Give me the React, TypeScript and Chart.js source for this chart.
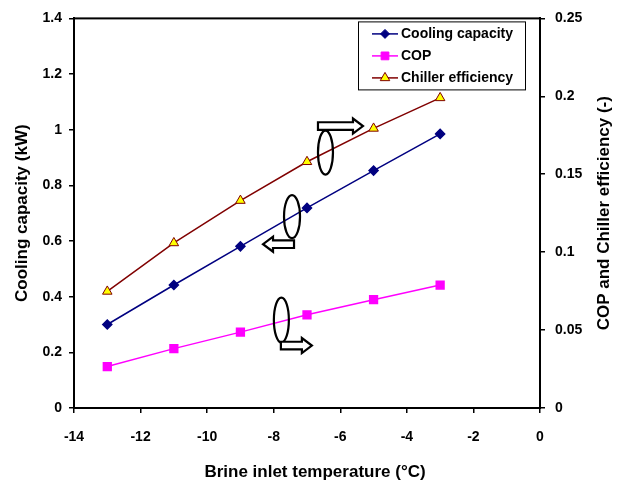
import React, { useEffect, useRef } from "react";
import { Chart, registerables } from "chart.js";
import { drawPoint } from "chart.js/helpers";

Chart.register(...registerables);

// ---- data ----
const temperatures = [-13, -11, -9, -7, -5, -3];
const coolingCapacity = [0.3, 0.442, 0.581, 0.719, 0.853, 0.985];
const copValues = [0.0266, 0.0381, 0.0487, 0.0598, 0.0695, 0.0789];
const chillerEfficiency = [0.0748, 0.1059, 0.1331, 0.158, 0.1794, 0.199];

const xTicks = [-14, -12, -10, -8, -6, -4, -2, 0];
const yLeftTicks = [0, 0.2, 0.4, 0.6, 0.8, 1, 1.2, 1.4];
const yRightTicks = [0, 0.05, 0.1, 0.15, 0.2, 0.25];

const seriesLabels = ["Cooling capacity", "COP", "Chiller efficiency"];
const xTitle = "Brine inlet temperature (°C)";
const yLeftTitle = "Cooling capacity (kW)";
const yRightTitle = "COP and Chiller efficiency (-)";

// annotation anchors (data units on x / left y axis)
const noteX = [-6.445, -7.45, -7.77];
const noteY = [0.918, 0.6875, 0.316];

const FONT = "'Liberation Sans', Arial, Helvetica, sans-serif";

// styles of annotations (pixels)
const noteStyles = [
  { rx: 7.5, ry: 22, dir: 1, tailDx: -7.5, dy: -26.5, len: 45 },
  { rx: 8, ry: 21.5, dir: -1, tailDx: 2, dy: 27.5, len: 31 },
  { rx: 7.5, ry: 22.5, dir: 1, tailDx: -0.5, dy: 25.5, len: 31 },
];

const framePlugin = {
  id: "frame",
  beforeDatasetsDraw(chart: any) {
    const { ctx, chartArea: a } = chart;
    ctx.save();
    ctx.strokeStyle = "#000";
    ctx.lineWidth = 2;
    ctx.strokeRect(a.left, a.top, a.right - a.left, a.bottom - a.top);
    ctx.restore();
  },
};

const notesPlugin = {
  id: "notes",
  afterDatasetsDraw(chart: any) {
    const { ctx } = chart;
    const xs = chart.scales.x;
    const ys = chart.scales.y;
    ctx.save();
    ctx.strokeStyle = "#000";
    ctx.lineWidth = 2.2;
    noteX.forEach((xv, i) => {
      const st = noteStyles[i];
      const cx = xs.getPixelForValue(xv);
      const cy = ys.getPixelForValue(noteY[i]);
      ctx.beginPath();
      ctx.ellipse(cx, cy, st.rx, st.ry, 0, 0, Math.PI * 2);
      ctx.stroke();
      // block arrow
      const tail = cx + st.tailDx;
      const tip = tail + st.dir * st.len;
      const neck = tip - st.dir * 10;
      const yc = cy + st.dy;
      const bh = 3.8;
      const hh = 7.5;
      ctx.beginPath();
      ctx.moveTo(tail, yc - bh);
      ctx.lineTo(neck, yc - bh);
      ctx.lineTo(neck, yc - hh);
      ctx.lineTo(tip, yc);
      ctx.lineTo(neck, yc + hh);
      ctx.lineTo(neck, yc + bh);
      ctx.lineTo(tail, yc + bh);
      ctx.closePath();
      ctx.fillStyle = "#fff";
      ctx.fill();
      ctx.stroke();
    });
    ctx.restore();
  },
};

const legendPlugin = {
  id: "boxLegend",
  afterDraw(chart: any) {
    const { ctx, chartArea: a } = chart;
    const bx = a.right - 182;
    const by = a.top + 3;
    const bw = 167;
    const bh = 68;
    ctx.save();
    ctx.fillStyle = "#fff";
    ctx.fillRect(bx, by, bw, bh);
    ctx.strokeStyle = "#000";
    ctx.lineWidth = 1;
    ctx.strokeRect(bx + 0.5, by + 0.5, bw, bh);
    chart.data.datasets.forEach((ds: any, i: number) => {
      const yc = by + 12.5 + i * 22;
      ctx.strokeStyle = ds.borderColor;
      ctx.lineWidth = 1.5;
      ctx.beginPath();
      ctx.moveTo(bx + 14, yc);
      ctx.lineTo(bx + 40, yc);
      ctx.stroke();
      ctx.fillStyle = ds.pointBackgroundColor;
      ctx.strokeStyle = ds.pointBorderColor;
      ctx.lineWidth = 1;
      drawPoint(ctx, { pointStyle: ds.pointStyle, radius: ds.pointRadius, rotation: 0, borderWidth: 1 }, bx + 27, yc);
      ctx.fillStyle = "#000";
      ctx.font = `bold 14px ${FONT}`;
      ctx.textBaseline = "middle";
      ctx.textAlign = "left";
      ctx.fillText(ds.label, bx + 43, yc + 0.5);
    });
    ctx.restore();
  },
};

const titlesPlugin = {
  id: "extraTitles",
  afterDraw(chart: any) {
    const { ctx, chartArea: a } = chart;
    ctx.save();
    ctx.fillStyle = "#000";
    ctx.font = `bold 17px ${FONT}`;
    ctx.textAlign = "center";
    ctx.textBaseline = "middle";
    // x title (centred slightly right of the plot centre, as in the reference)
    ctx.fillText(xTitle, (a.left + a.right) / 2 + 8, 472);
    // right title, reading upward
    ctx.translate(604, (a.top + a.bottom) / 2);
    ctx.rotate(-Math.PI / 2);
    ctx.fillText(yRightTitle, 0, 0);
    ctx.restore();
  },
};

const fmt = (v: number) => String(Number(Number(v).toFixed(3)));

export default function App() {
  const ref = useRef<HTMLCanvasElement | null>(null);
  useEffect(() => {
    if (!ref.current) return;
    const tickFont = { family: FONT, size: 14, weight: "bold" as const };
    const titleFont = { family: FONT, size: 17, weight: "bold" as const };
    const gridOpts = {
      drawOnChartArea: false,
      drawTicks: true,
      tickLength: 5,
      color: "#000",
      lineWidth: 1.5,
    };
    const borderOpts = { display: true, color: "#000", width: 2 };
    const chart = new Chart(ref.current, {
      type: "line",
      data: {
        datasets: [
          {
            label: seriesLabels[0],
            data: temperatures.map((t, i) => ({ x: t, y: coolingCapacity[i] })),
            yAxisID: "y",
            borderColor: "#000080",
            backgroundColor: "#000080",
            pointBackgroundColor: "#000080",
            pointBorderColor: "#000080",
            pointStyle: "rectRot",
            pointRadius: 4.5,
            borderWidth: 1.5,
            tension: 0,
            clip: false as any,
          },
          {
            label: seriesLabels[1],
            data: temperatures.map((t, i) => ({ x: t, y: copValues[i] })),
            yAxisID: "y2",
            borderColor: "#FF00FF",
            backgroundColor: "#FF00FF",
            pointBackgroundColor: "#FF00FF",
            pointBorderColor: "#FF00FF",
            pointStyle: "rect",
            pointRadius: 5.5,
            borderWidth: 1.5,
            tension: 0,
            clip: false as any,
          },
          {
            label: seriesLabels[2],
            data: temperatures.map((t, i) => ({ x: t, y: chillerEfficiency[i] })),
            yAxisID: "y2",
            borderColor: "#800000",
            backgroundColor: "#FFFF00",
            pointBackgroundColor: "#FFFF00",
            pointBorderColor: "#800000",
            pointStyle: "triangle",
            pointRadius: 5.5,
            pointBorderWidth: 1,
            borderWidth: 1.5,
            tension: 0,
            clip: false as any,
          },
        ],
      },
      options: {
        responsive: false,
        animation: false,
        devicePixelRatio: 1,
        layout: { padding: { top: 16, left: 0, right: 0, bottom: 0 } },
        plugins: {
          legend: { display: false },
          tooltip: { enabled: false },
        },
        scales: {
          x: {
            type: "linear",
            position: "bottom",
            min: -14,
            max: 0,
            afterBuildTicks: (s: any) => {
              s.ticks = xTicks.map((v) => ({ value: v }));
            },
            afterFit: (s: any) => {
              s.height = 75;
            },
            ticks: {
              font: tickFont,
              color: "#000",
              padding: 16,
              maxRotation: 0,
              callback: (v: any) => fmt(v),
            },
            grid: gridOpts,
            border: borderOpts,
            title: { display: false, text: xTitle },
          },
          y: {
            type: "linear",
            position: "left",
            min: 0,
            max: 1.4,
            afterBuildTicks: (s: any) => {
              s.ticks = yLeftTicks.map((v) => ({ value: v }));
            },
            afterFit: (s: any) => {
              s.width = 74;
            },
            ticks: {
              font: tickFont,
              color: "#000",
              padding: 7,
              callback: (v: any) => fmt(v),
            },
            grid: gridOpts,
            border: borderOpts,
            title: {
              display: true,
              text: yLeftTitle,
              font: titleFont,
              color: "#000",
              padding: { top: 12, bottom: 0 },
            },
          },
          y2: {
            type: "linear",
            position: "right",
            min: 0,
            max: 0.25,
            afterBuildTicks: (s: any) => {
              s.ticks = yRightTicks.map((v) => ({ value: v }));
            },
            afterFit: (s: any) => {
              s.width = 77;
            },
            ticks: {
              font: tickFont,
              color: "#000",
              padding: 10,
              callback: (v: any) => fmt(v),
            },
            grid: gridOpts,
            border: borderOpts,
          },
        },
      } as any,
      plugins: [framePlugin, notesPlugin, legendPlugin, titlesPlugin],
    });
    return () => chart.destroy();
  }, []);

  return (
    <div style={{ position: "fixed", left: 0, top: 0, width: 617, height: 483, background: "#fff" }}>
      <canvas ref={ref} width={617} height={483} style={{ display: "block", width: 617, height: 483 }} />
    </div>
  );
}
